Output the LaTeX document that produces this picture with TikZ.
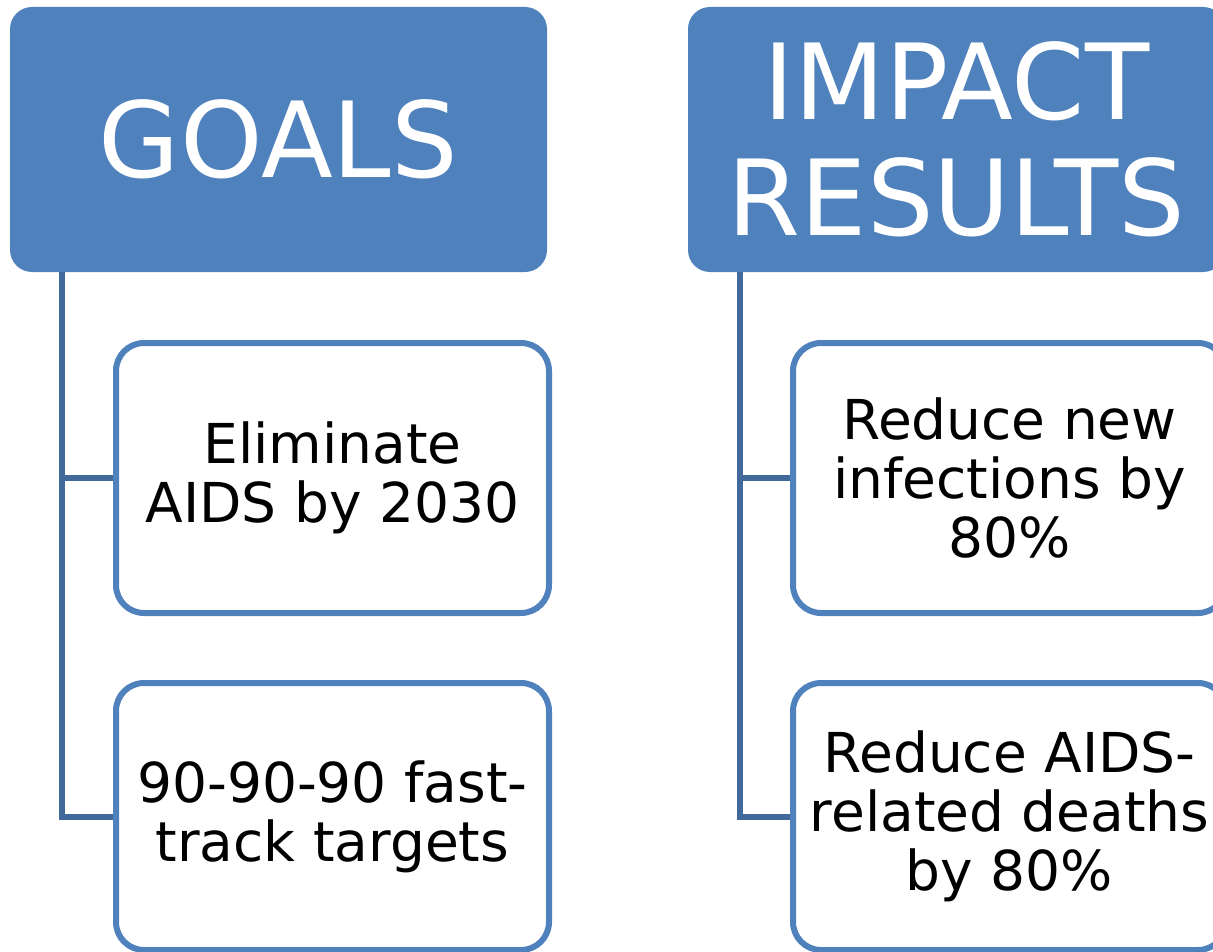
\documentclass[tikz,border=0pt]{standalone}
\usepackage{fontspec}
\setmainfont{DejaVu Sans}
\usepackage{tikz}
\definecolor{headblue}{HTML}{4F81BD}
\definecolor{linkblue}{HTML}{41699B}
\tikzstyle{head} = [fill=headblue, rectangle, rounded corners=22pt, text=white,
    align=center, inner sep=0pt, minimum width=537pt, minimum height=265pt,
    font=\fontsize{105}{116}\selectfont]
\tikzstyle{goal} = [draw=headblue, line width=6pt, fill=white, rectangle,
    rounded corners=28pt, align=center, inner sep=0pt,
    minimum width=433pt, minimum height=270pt,
    font=\fontsize{55}{59}\selectfont]
\tikzstyle{link} = [draw=linkblue, line width=6pt]

\begin{document}
\begin{tikzpicture}[x=1pt, y=-1pt, node distance=338.5pt]
    \useasboundingbox (0,0) rectangle (1213,952);
    \node [head] (goals) at (278.5,139.5) {GOALS};
    \node [head, right of=goals, node distance=678pt] (impact) {IMPACT\\RESULTS};
    \node [goal] (elim) at (332.5,478) {Eliminate\\AIDS by 2030};
    \node [goal, below of=elim, minimum height=267pt] (fast) {90-90-90 fast-\\track targets};
    \node [goal, right of=elim, node distance=677pt] (infect) {Reduce new\\infections by\\80\%};
    \node [goal, below of=infect, minimum height=267pt] (deaths) {Reduce AIDS-\\related deaths\\by 80\%};
    % tree lines
    \draw [link] ([xshift=52pt]goals.south west) |- (elim.west);
    \draw [link] ([xshift=52pt]goals.south west) |- (fast.west);
    \draw [link] ([xshift=52pt]impact.south west) |- (infect.west);
    \draw [link] ([xshift=52pt]impact.south west) |- (deaths.west);
\end{tikzpicture}
\end{document}
